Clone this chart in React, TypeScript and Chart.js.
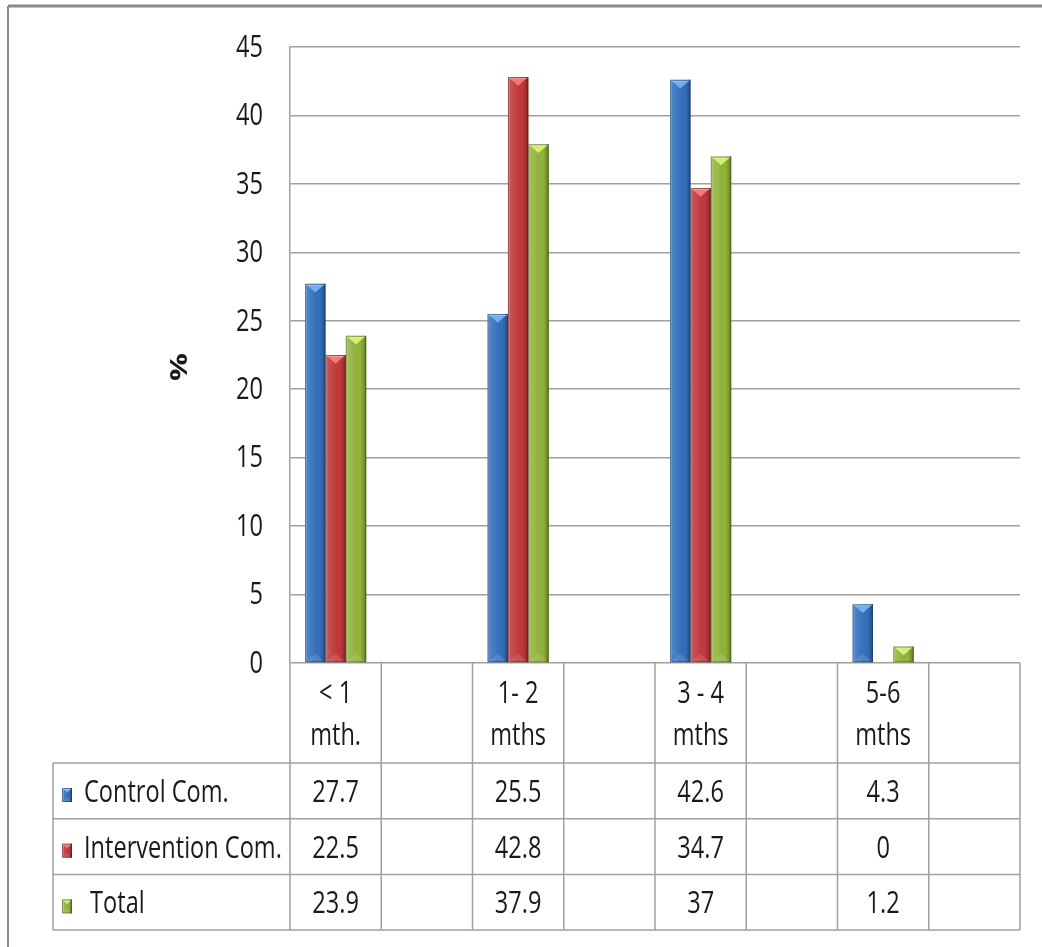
import { useEffect, useRef } from "react";
import { Chart, registerables } from "chart.js";

Chart.register(...registerables);

// Duration groups (header lines of the data table); blank columns are spacer categories
const categoryLines: string[][] = [
  ["< 1", "mth."],
  [],
  ["1- 2", "mths"],
  [],
  ["3 - 4", "mths"],
  [],
  ["5-6", "mths"],
  [],
];
const categories = categoryLines.map((l) => l.join(" "));

// Percentages per group
const controlCom: (number | null)[] = [27.7, null, 25.5, null, 42.6, null, 4.3, null];
const interventionCom: (number | null)[] = [22.5, null, 42.8, null, 34.7, null, 0, null];
const totalValues: (number | null)[] = [23.9, null, 37.9, null, 37, null, 1.2, null];

const seriesNames = ["Control Com.", "Intervention Com.", " Total"];
const seriesValues = [controlCom, interventionCom, totalValues];

const yMin = 0;
const yMax = 45;
const yStep = 5;
const yTitle = "%";

const baseColors = ["#3570bd", "#c0393b", "#91b43a"];
const lightColors = ["#6fb0f0", "#f27a78", "#d6ee72"];
const darkColors = ["#234f8a", "#8c2426", "#637f22"];

const FONT = "'Open Sans', 'DejaVu Sans Condensed', sans-serif";
const FONT_SIZE = 31;
const TEXT_SX = 0.76; // narrow letterforms
const TEXT_COLOR = "#1a1a1a";
const GRID = "#a0a0a0";

function narrowText(ctx: CanvasRenderingContext2D, text: string, x: number, y: number, align: CanvasTextAlign) {
  ctx.save();
  ctx.translate(x, y);
  ctx.scale(TEXT_SX, 1);
  ctx.textAlign = align;
  ctx.fillText(text, 0, 0);
  ctx.restore();
}

function bevel(ctx: CanvasRenderingContext2D, left: number, top: number, w: number, h: number, i: number, fillBase: boolean) {
  if (h < 1 || w < 1) return;
  const right = left + w;
  const bottom = top + h;
  ctx.save();
  if (fillBase) {
    ctx.fillStyle = baseColors[i];
    ctx.fillRect(left, top, w, h);
  }
  const g = ctx.createLinearGradient(left, 0, right, 0);
  g.addColorStop(0, "rgba(255,255,255,0.16)");
  g.addColorStop(0.35, "rgba(255,255,255,0.06)");
  g.addColorStop(0.7, "rgba(0,0,0,0)");
  g.addColorStop(1, "rgba(0,0,0,0.25)");
  ctx.fillStyle = g;
  ctx.fillRect(left, top, w, h);
  ctx.fillStyle = "rgba(255,255,255,0.18)";
  ctx.fillRect(left, top, Math.min(2, w), h);
  ctx.fillStyle = darkColors[i];
  ctx.globalAlpha = 0.55;
  ctx.fillRect(right - 2, top, 2, h);
  ctx.globalAlpha = 1;
  // top chevron
  const depth = Math.min(w * 0.38, h - 1);
  ctx.fillStyle = lightColors[i];
  ctx.beginPath();
  ctx.moveTo(left + 1.5, top + 1);
  ctx.lineTo(right - 1.5, top + 1);
  ctx.lineTo(left + w / 2, top + 1 + depth);
  ctx.closePath();
  ctx.fill();
  ctx.fillStyle = "rgba(255,255,255,0.25)";
  ctx.fillRect(left + 1, top, w - 2, 2);
  // faint bottom chevron
  if (h > 3 * depth) {
    ctx.fillStyle = "rgba(255,255,255,0.12)";
    ctx.beginPath();
    ctx.moveTo(left + 1.5, bottom - 1);
    ctx.lineTo(right - 1.5, bottom - 1);
    ctx.lineTo(left + w / 2, bottom - 1 - depth);
    ctx.closePath();
    ctx.fill();
  }
  ctx.strokeStyle = "rgba(0,0,0,0.25)";
  ctx.lineWidth = 1;
  ctx.strokeRect(left + 0.5, top + 0.5, w - 1, h - 1);
  ctx.restore();
}

const framePlugin = {
  id: "frameAndTable",
  beforeDraw(chart: any) {
    const ctx: CanvasRenderingContext2D = chart.ctx;
    ctx.save();
    ctx.fillStyle = "#ffffff";
    ctx.fillRect(0, 0, chart.width, chart.height);
    ctx.strokeStyle = "#8a8a8a";
    ctx.lineWidth = 3;
    ctx.beginPath();
    ctx.moveTo(chart.width + 5, 6);
    ctx.lineTo(8, 6);
    ctx.stroke();
    ctx.lineWidth = 2;
    ctx.beginPath();
    ctx.moveTo(8, 6);
    ctx.lineTo(8, chart.height + 5);
    ctx.stroke();
    ctx.restore();
  },
  afterDatasetsDraw(chart: any) {
    const ctx: CanvasRenderingContext2D = chart.ctx;
    chart.data.datasets.forEach((_: any, di: number) => {
      const meta = chart.getDatasetMeta(di);
      meta.data.forEach((el: any, idx: number) => {
        const v = seriesValues[di][idx];
        if (v == null) return;
        const { x, y, base, width } = el.getProps(["x", "y", "base", "width"], true);
        const top = Math.min(y, base);
        const h = Math.abs(base - y);
        bevel(ctx, x - width / 2, top, width, h, di, false);
      });
    });
  },
  afterDraw(chart: any) {
    const ctx: CanvasRenderingContext2D = chart.ctx;
    const area = chart.chartArea;
    const xs = chart.scales.x;
    const ys = chart.scales.y;
    const half = (xs.getPixelForValue(1) - xs.getPixelForValue(0)) / 2;
    const headerH = 100;
    const rowH = 55.7;
    const rowTops = [0, 1, 2].map((r) => area.bottom + headerH + r * rowH);
    const tableBottom = area.bottom + headerH + 3 * rowH;
    const legendLeft = 53;

    ctx.save();
    ctx.strokeStyle = GRID;
    ctx.lineWidth = 1.5;
    ctx.beginPath();
    [...rowTops, tableBottom].forEach((yy) => {
      ctx.moveTo(legendLeft, yy);
      ctx.lineTo(area.right, yy);
    });
    ctx.moveTo(legendLeft, rowTops[0]);
    ctx.lineTo(legendLeft, tableBottom);
    for (let i = 0; i <= categories.length; i++) {
      const bx = i < categories.length ? xs.getPixelForValue(i) - half : xs.getPixelForValue(categories.length - 1) + half;
      ctx.moveTo(bx, area.bottom);
      ctx.lineTo(bx, tableBottom);
    }
    ctx.stroke();

    ctx.fillStyle = TEXT_COLOR;
    ctx.font = `${FONT_SIZE}px ${FONT}`;
    ctx.textBaseline = "alphabetic";

    // value axis labels
    ctx.textBaseline = "middle";
    ys.ticks.forEach((t: any) => {
      narrowText(ctx, String(t.value), area.left - 27, ys.getPixelForValue(t.value) + 1, "right");
    });
    ctx.textBaseline = "alphabetic";

    categoryLines.forEach((lines, i) => {
      const cx = xs.getPixelForValue(i);
      lines.forEach((t, li) => narrowText(ctx, t, cx, area.bottom + 40 + li * 42, "center"));
    });
    seriesValues.forEach((vals, r) => {
      vals.forEach((v, i) => {
        if (v == null) return;
        narrowText(ctx, String(v), xs.getPixelForValue(i), rowTops[r] + 39, "center");
      });
    });
    seriesNames.forEach((name, r) => {
      bevel(ctx, 62, rowTops[r] + 25, 10, 14, r, true);
      ctx.fillStyle = TEXT_COLOR;
      narrowText(ctx, name, 84, rowTops[r] + 39, "left");
    });

    // axis title
    ctx.translate(180, 367);
    ctx.rotate(-Math.PI / 2);
    ctx.textAlign = "center";
    ctx.textBaseline = "middle";
    ctx.font = `bold ${FONT_SIZE}px ${FONT}`;
    ctx.scale(1, TEXT_SX);
    ctx.fillText(yTitle, 0, 0);
    ctx.restore();
  },
};

export default function App() {
  const ref = useRef<HTMLCanvasElement | null>(null);

  useEffect(() => {
    if (!ref.current) return;
    const chart = new Chart(ref.current, {
      type: "bar",
      data: {
        labels: categories,
        datasets: seriesValues.map((vals, i) => ({
          label: seriesNames[i].trim(),
          data: vals,
          backgroundColor: baseColors[i],
          borderWidth: 0,
          categoryPercentage: 0.67,
          barPercentage: 1,
        })),
      },
      options: {
        animation: false,
        responsive: false,
        devicePixelRatio: 1,
        layout: { padding: { left: 0, top: 47, right: 22, bottom: 284 } },
        plugins: { legend: { display: false }, tooltip: { enabled: false } },
        scales: {
          x: { display: false, offset: true },
          y: {
            min: yMin,
            max: yMax,
            afterFit: (s: any) => {
              s.width = 290;
            },
            ticks: { stepSize: yStep, display: false },
            grid: { color: GRID, lineWidth: 1.5, drawTicks: false },
            border: { color: GRID, width: 1.5 },
          },
        },
      },
      plugins: [framePlugin],
    });
    return () => chart.destroy();
  }, []);

  return (
    <div style={{ position: "absolute", left: 0, top: 0, width: 1042, height: 947 }}>
      <canvas ref={ref} width={1042} height={947} />
    </div>
  );
}
